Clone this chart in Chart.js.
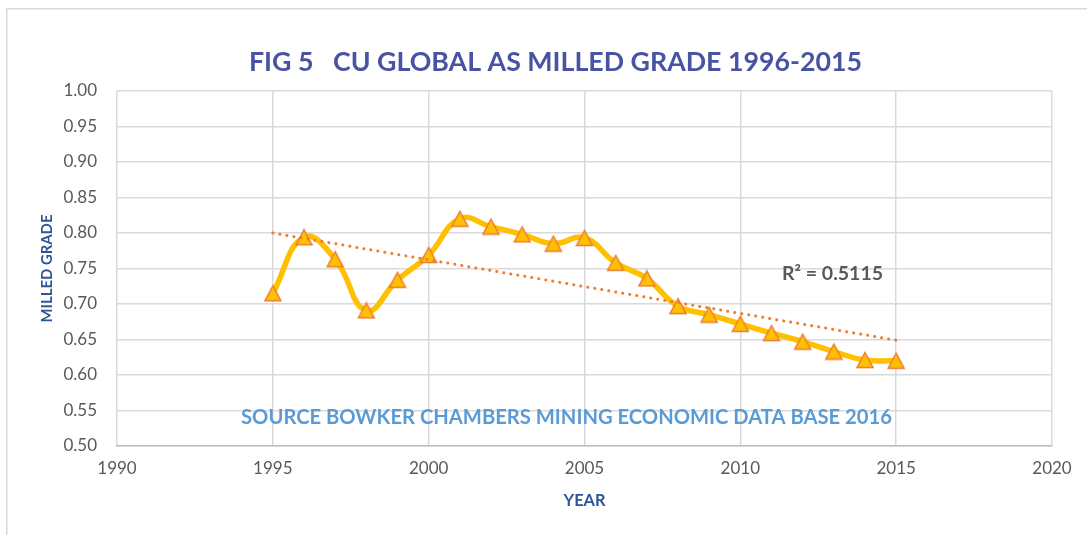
<!DOCTYPE html>
<html>
<head>
<meta charset="utf-8">
<script src="https://cdn.jsdelivr.net/npm/chart.js@4.4.1/dist/chart.umd.min.js"></script>
<style>
  html, body { margin: 0; padding: 0; background: #ffffff; overflow: hidden; }
  #wrap { position: relative; width: 1087px; height: 535px; }
  canvas { position: absolute; left: 0; top: 0; }
</style>
</head>
<body>
<div id="wrap"><canvas id="c" width="1087" height="535"></canvas></div>
<script>
// ---- data ----
const years = [1995, 1996, 1997, 1998, 1999, 2000, 2001, 2002, 2003, 2004, 2005,
               2006, 2007, 2008, 2009, 2010, 2011, 2012, 2013, 2014, 2015];
const milledGrade = [0.715, 0.794, 0.763, 0.691, 0.734, 0.769, 0.820, 0.809, 0.798, 0.785, 0.793,
                     0.758, 0.736, 0.697, 0.685, 0.672, 0.659, 0.647, 0.633, 0.621, 0.620];
const trendYears = [1995, 2015];
const trendValues = [0.800, 0.649];
const xTicks = [1990, 1995, 2000, 2005, 2010, 2015, 2020];
const yTicks = [0.50, 0.55, 0.60, 0.65, 0.70, 0.75, 0.80, 0.85, 0.90, 0.95, 1.00];
const titleText = 'FIG 5   CU GLOBAL AS MILLED GRADE 1996-2015';
const sourceText = 'SOURCE BOWKER CHAMBERS MINING ECONOMIC DATA BASE 2016';
const r2Text = 'R\u00B2 = 0.5115';
const xTitle = 'YEAR';
const yTitle = 'MILLED GRADE';

const FONT = 'Lato, "Open Sans", "DejaVu Sans", sans-serif';

function fitFont(ctx, text, weight, target) {
  ctx.font = weight + ' 20px ' + FONT;
  const w = ctx.measureText(text).width;
  const size = 20 * target / w;
  return weight + ' ' + size.toFixed(2) + 'px ' + FONT;
}

// triangle marker whose bounding box is centred on the data point (as in Excel)
function makeTriangle() {
  const c = document.createElement('canvas');
  c.width = 20; c.height = 18;
  const g = c.getContext('2d');
  g.beginPath();
  g.moveTo(10, 1.5);
  g.lineTo(2, 16.5);
  g.lineTo(18, 16.5);
  g.closePath();
  g.fillStyle = '#ffc000';
  g.fill();
  g.lineJoin = 'miter';
  g.strokeStyle = '#ed7d31';
  g.lineWidth = 1.5;
  g.stroke();
  return c;
}
const triangleMarker = makeTriangle();

const textPlugin = {
  id: 'texts',
  beforeDraw(chart) {
    const ctx = chart.ctx;
    ctx.save();
    ctx.strokeStyle = '#d9d9d9';
    ctx.lineWidth = 1.5;
    ctx.strokeRect(6.75, 8.75, 2000, 2000);
    ctx.restore();
  },
  afterDraw(chart) {
    const ctx = chart.ctx;
    const xs = chart.scales.x, ys = chart.scales.y;
    ctx.save();
    ctx.textBaseline = 'middle';
    ctx.fillStyle = '#4854a3';
    ctx.textAlign = 'center';
    ctx.font = fitFont(ctx, titleText, 'bold', 613);
    ctx.fillText(titleText, 555.5, 62);
    ctx.fillStyle = '#5b9bd5';
    ctx.font = fitFont(ctx, sourceText, 'bold', 651);
    ctx.fillText(sourceText, 566.5, 417);
    ctx.fillStyle = '#595959';
    ctx.textAlign = 'left';
    ctx.font = fitFont(ctx, r2Text, 'bold', 101);
    ctx.fillText(r2Text, 782, 274);
    ctx.fillStyle = '#2f5597';
    ctx.textAlign = 'center';
    ctx.font = fitFont(ctx, xTitle, 'bold', 42);
    ctx.fillText(xTitle, (xs.left + xs.right) / 2, 501);
    ctx.translate(47, (ys.top + ys.bottom) / 2);
    ctx.rotate(-Math.PI / 2);
    ctx.font = fitFont(ctx, yTitle, 'bold', 108);
    ctx.fillText(yTitle, 0, 0);
    ctx.restore();
  }
};

const mainData = years.map((y, i) => ({ x: y, y: milledGrade[i] }));
const trendData = trendYears.map((y, i) => ({ x: y, y: trendValues[i] }));

new Chart(document.getElementById('c'), {
  type: 'scatter',
  data: {
    datasets: [
      {
        label: 'Trend',
        data: trendData,
        showLine: true,
        borderColor: '#ed7d31',
        borderWidth: 3,
        borderDash: [0.1, 7],
        borderCapStyle: 'round',
        pointRadius: 0,
        order: 0
      },
      {
        label: 'Milled grade',
        data: mainData,
        showLine: true,
        borderColor: '#ffc000',
        borderWidth: 5.5,
        tension: 0.45,
        pointStyle: triangleMarker,
        pointRadius: 9,
        order: 1
      }
    ]
  },
  options: {
    responsive: false,
    animation: false,
    layout: { padding: { left: 0, right: 35, top: 91, bottom: 0 } },
    plugins: { legend: { display: false }, tooltip: { enabled: false }, title: { display: false } },
    scales: {
      x: {
        type: 'linear',
        min: xTicks[0],
        max: xTicks[xTicks.length - 1],
        afterBuildTicks: (s) => { s.ticks = xTicks.map(v => ({ value: v })); },
        afterFit: (s) => { s.height = 89; },
        ticks: {
          color: '#595959',
          font: { family: FONT, size: 17 },
          padding: 12,
          callback: (v) => String(v)
        },
        grid: { color: '#d9d9d9', lineWidth: 1.5, drawTicks: false },
        border: { display: true, color: '#bfbfbf', width: 1.5 }
      },
      y: {
        min: yTicks[0],
        max: yTicks[yTicks.length - 1],
        afterBuildTicks: (s) => { s.ticks = yTicks.map(v => ({ value: v })); },
        afterFit: (s) => { s.width = 117; },
        ticks: {
          color: '#595959',
          font: { family: FONT, size: 17 },
          padding: 20,
          callback: (v) => Number(v).toFixed(2)
        },
        grid: { color: '#d9d9d9', lineWidth: 1.5, drawTicks: false },
        border: { display: false }
      }
    }
  },
  plugins: [textPlugin]
});
</script>
</body>
</html>
